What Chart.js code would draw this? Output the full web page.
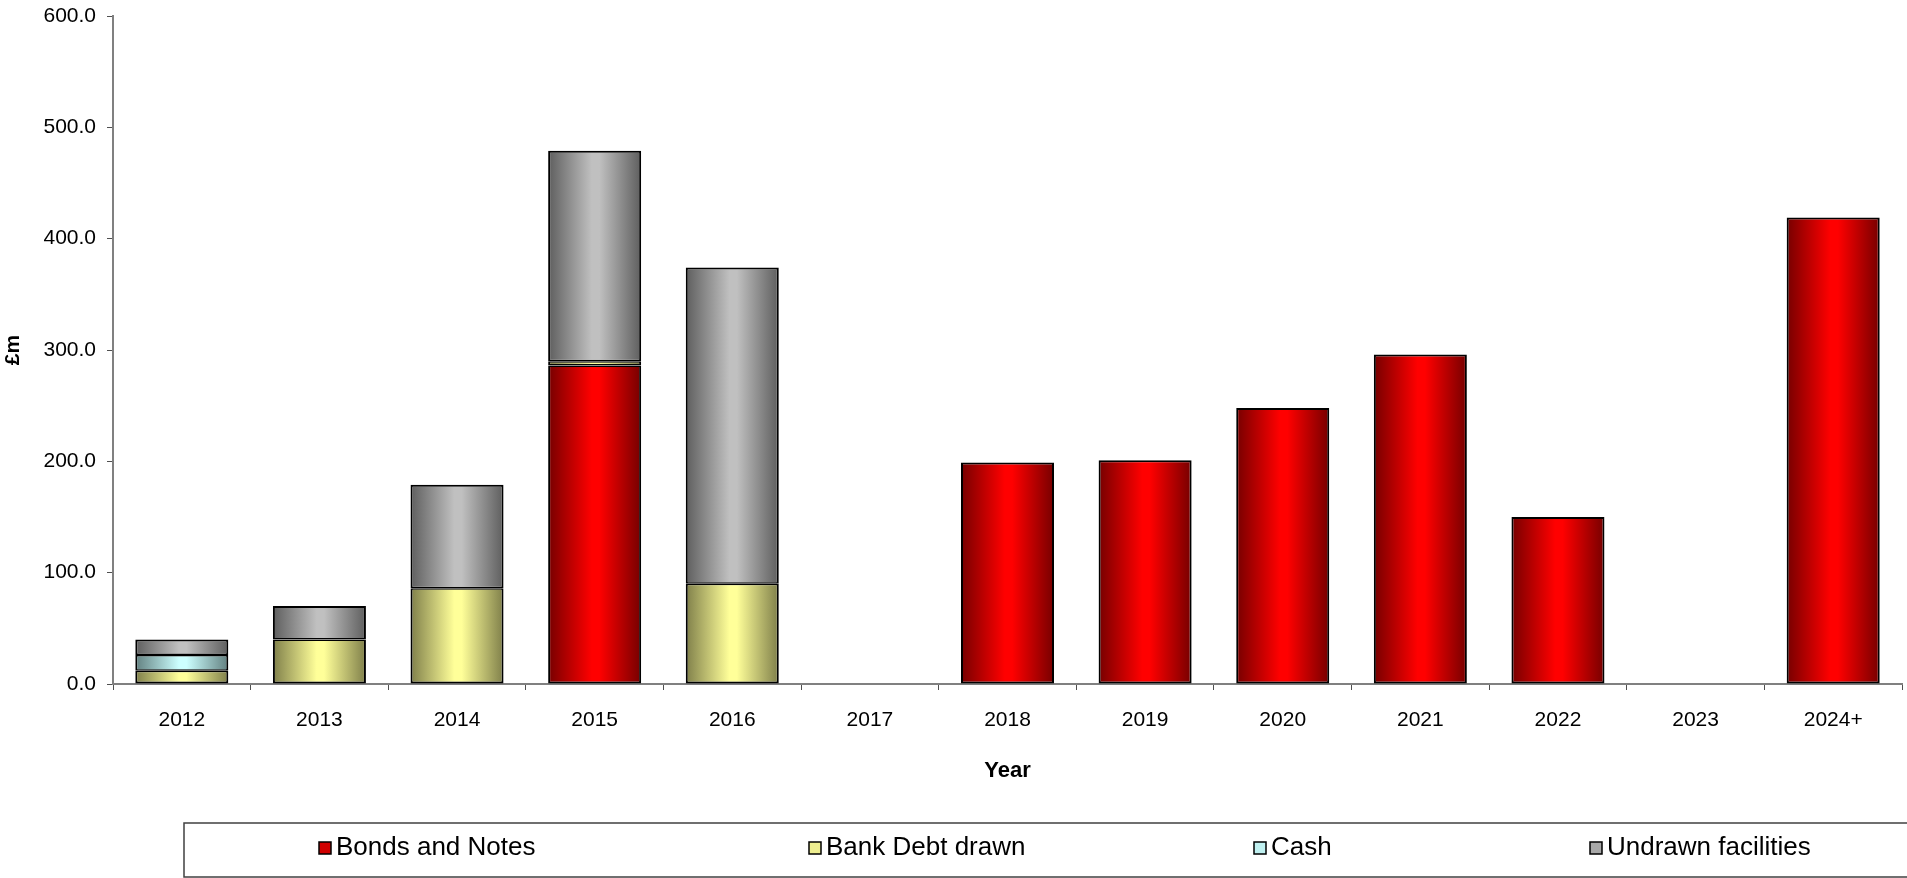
<!DOCTYPE html>
<html lang="en">
<head>
<meta charset="UTF-8" />
<title>Debt maturity profile</title>
<script src="https://cdn.jsdelivr.net/npm/chart.js@4.4.1/dist/chart.umd.min.js"></script>
<style>
  html, body { margin: 0; padding: 0; background: #fff; }
  canvas { display: block; }
</style>
</head>
<body>
<canvas id="maturity" width="1907" height="878"></canvas>
<script>
  // Maturity buckets (£m)
  const years = ['2012', '2013', '2014', '2015', '2016', '2017', '2018', '2019', '2020', '2021', '2022', '2023', '2024+'];
  const bondsAndNotes     = [null, null, null, 286, null, null, 199, 201, 248, 296, 150, null, 419];
  const bankDebtDrawn     = [12, 40, 86, 4, 90, null, null, null, null, null, null, null, null];
  const cash              = [14, null, null, null, null, null, null, null, null, null, null, null, null];
  const undrawnFacilities = [14, 30, 93, 189, 284, null, null, null, null, null, null, null, null];
  const yTickLabels = ['0.0', '100.0', '200.0', '300.0', '400.0', '500.0', '600.0'];

  const BAR_PCT = 0.676;
  const FONT = '"Liberation Sans", Arial, sans-serif';

  // [edge, centre] colours for the cylinder-like shading
  const shades = {
    bonds:   ['#760000', '#ff0000'],
    bank:    ['#7f7f4a', '#ffff99'],
    cash:    ['#628080', '#ccffff'],
    undrawn: ['#5e5e5e', '#c0c0c0']
  };

  function shaded(pair) {
    return function (c) {
      const chart = c.chart;
      const xs = chart.scales && chart.scales.x;
      if (c.type !== 'data' || !xs || !xs.width) return pair[1];
      const cx = xs.getPixelForValue(c.dataIndex);
      const half = xs.width / years.length * BAR_PCT / 2;
      const g = chart.ctx.createLinearGradient(cx - half, 0, cx + half, 0);
      g.addColorStop(0, pair[0]);
      g.addColorStop(0.47, pair[1]);
      g.addColorStop(0.55, pair[1]);
      g.addColorStop(1, pair[0]);
      return g;
    };
  }

  // thinner edges where two stacked segments meet, so the joint is one line
  function edgeWidths(c) {
    if (c.type !== 'data') return 2;
    const sets = c.chart.data.datasets;
    const i = c.dataIndex;
    let below = false, above = false;
    sets.forEach((s, k) => {
      if (s.data[i] == null) return;
      if (k < c.datasetIndex) below = true;
      if (k > c.datasetIndex) above = true;
    });
    return { left: 2, right: 2, top: above ? 1.5 : 2, bottom: below ? 1.5 : 2 };
  }

  // boxed legend strip under the axis title
  const boxLegend = {
    id: 'boxLegend',
    afterDraw(chart, args, opts) {
      const ctx = chart.ctx;
      ctx.save();
      ctx.strokeStyle = '#404040';
      ctx.lineWidth = 1.5;
      ctx.strokeRect(opts.left, opts.top, chart.width - opts.left + 5, opts.height);
      ctx.font = opts.fontSize + 'px ' + FONT;
      ctx.textBaseline = 'alphabetic';
      chart.data.datasets.forEach((ds, i) => {
        const x = opts.xs[i];
        const sy = opts.top + 19;
        ctx.fillStyle = ds.swatch;
        ctx.fillRect(x, sy, 12, 12);
        ctx.strokeStyle = '#000';
        ctx.lineWidth = 1.5;
        ctx.strokeRect(x, sy, 12, 12);
        ctx.fillStyle = '#000';
        ctx.fillText(ds.label, x + 17, opts.top + 32);
      });
      ctx.restore();
    }
  };

  const ctx = document.getElementById('maturity').getContext('2d');
  new Chart(ctx, {
    type: 'bar',
    data: {
      labels: years,
      datasets: [
        { label: 'Bonds and Notes', data: bondsAndNotes, backgroundColor: shaded(shades.bonds), swatch: '#d00000' },
        { label: 'Bank Debt drawn', data: bankDebtDrawn, backgroundColor: shaded(shades.bank), swatch: '#eeee90' },
        { label: 'Cash', data: cash, backgroundColor: shaded(shades.cash), swatch: '#bff0f0' },
        { label: 'Undrawn facilities', data: undrawnFacilities, backgroundColor: shaded(shades.undrawn), swatch: '#a8a8a8' }
      ]
    },
    options: {
      responsive: false,
      animation: false,
      layout: { padding: { top: 16, right: 5, bottom: 90, left: 0 } },
      datasets: {
        bar: {
          borderColor: '#000',
          borderWidth: edgeWidths,
          borderSkipped: false,
          barPercentage: BAR_PCT,
          categoryPercentage: 1
        }
      },
      scales: {
        x: {
          stacked: true,
          afterFit(scale) { scale.height = 104; },
          border: { color: '#808080', width: 2 },
          grid: { drawOnChartArea: false, drawTicks: true, tickLength: 6, color: '#505050' },
          ticks: { color: '#000', padding: 18, font: { family: FONT, size: 21 } },
          title: {
            display: true, text: 'Year', color: '#000',
            padding: { top: 0, bottom: 4 },
            font: { family: FONT, size: 22, weight: 'bold' }
          }
        },
        y: {
          stacked: true,
          min: 0, max: 600,
          afterFit(scale) {
            scale.width = 113;
            scale.paddingTop = 0;
            scale.paddingBottom = 0;
          },
          border: { color: '#808080', width: 2 },
          grid: { drawOnChartArea: false, drawTicks: true, tickLength: 6, color: '#505050' },
          ticks: {
            stepSize: 100, color: '#000', padding: 11,
            font: { family: FONT, size: 21 },
            callback: (v) => yTickLabels[Math.round(v / 100)]
          },
          title: {
            display: true, text: '£m', color: '#000',
            padding: { top: 1, bottom: 0 },
            font: { family: FONT, size: 21, weight: 'bold' }
          }
        }
      },
      plugins: {
        legend: { display: false },
        tooltip: { enabled: false },
        boxLegend: { left: 184, top: 823, height: 54, fontSize: 26, xs: [319, 809, 1254, 1590] }
      }
    },
    plugins: [boxLegend]
  });
</script>
</body>
</html>
